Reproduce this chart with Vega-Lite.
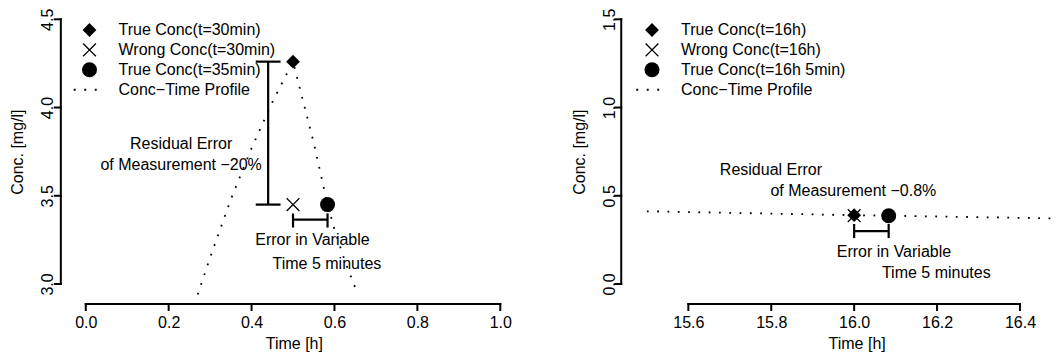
{
  "$schema": "https://vega.github.io/schema/vega-lite/v6.json",
  "background": "white",
  "padding": 0,
  "autosize": {"type": "fit", "contains": "padding"},
  "width": 1057,
  "height": 353,
  "config": {
    "font": "Liberation Sans",
    "view": {"stroke": null},
    "axis": {
      "grid": false, "domain": false,
      "tickColor": "black", "tickWidth": 2, "tickSize": 6, "tickOpacity": 0,
      "labelFont": "Liberation Sans", "labelFontSize": 16, "labelColor": "black", "labelOverlap": false,
      "titleFont": "Liberation Sans", "titleFontSize": 16, "titleFontWeight": "normal", "titleColor": "black"
    },
    "legend": {
      "labelFont": "Liberation Sans", "labelFontSize": 16, "labelColor": "black", "labelLimit": 0,
      "symbolFillColor": "black", "symbolStrokeWidth": 0, "symbolSize": 225,
      "labelOffset": 21, "rowPadding": 3.9, "padding": 0
    },
    "text": {"font": "Liberation Sans", "fontSize": 16, "color": "black"}
  },
  "datasets": {
    "profileL": [
      {"t": 0.27, "c": 2.94}, {"t": 0.30, "c": 3.15}, {"t": 0.35, "c": 3.48},
      {"t": 0.40, "c": 3.77}, {"t": 0.45, "c": 4.03}, {"t": 0.50, "c": 4.26},
      {"t": 0.55, "c": 3.80}, {"t": 0.5833, "c": 3.45}, {"t": 0.60, "c": 3.31},
      {"t": 0.625, "c": 3.13}, {"t": 0.65, "c": 2.98}, {"t": 0.655, "c": 2.95}
    ],
    "profileR": [
      {"t": 15.5, "c": 0.412}, {"t": 16.0, "c": 0.39}, {"t": 16.0833, "c": 0.387}, {"t": 16.48, "c": 0.372}
    ],
    "pointsL": [
      {"t": 0.5, "c": 4.26, "series": "True Conc(t=30min)"},
      {"t": 0.5, "c": 3.45, "series": "Wrong Conc(t=30min)"},
      {"t": 0.5833, "c": 3.45, "series": "True Conc(t=35min)"}
    ],
    "pointsR": [
      {"t": 16.0, "c": 0.39, "series": "True Conc(t=16h)"},
      {"t": 16.0, "c": 0.387, "series": "Wrong Conc(t=16h)"},
      {"t": 16.0833, "c": 0.387, "series": "True Conc(t=16h 5min)"}
    ],
    "barsL": [
      {"x": 0.44, "x2": 0.44, "y": 3.45, "y2": 4.26},
      {"x": 0.41, "x2": 0.47, "y": 4.26, "y2": 4.26},
      {"x": 0.41, "x2": 0.47, "y": 3.45, "y2": 3.45},
      {"x": 0.5, "x2": 0.5833, "y": 3.365, "y2": 3.365},
      {"x": 0.5, "x2": 0.5, "y": 3.32, "y2": 3.40},
      {"x": 0.5833, "x2": 0.5833, "y": 3.32, "y2": 3.40}
    ],
    "barsR": [
      {"x": 16.0, "x2": 16.0833, "y": 0.30, "y2": 0.30},
      {"x": 16.0, "x2": 16.0, "y": 0.26, "y2": 0.34},
      {"x": 16.0833, "x2": 16.0833, "y": 0.26, "y2": 0.34}
    ],
    "frameL": [
      {"x": 0, "x2": 1, "y": 2.88666, "y2": 2.88666},
      {"x": 0, "x2": 0, "y": 2.88666, "y2": 2.85266},
      {"x": 0.2, "x2": 0.2, "y": 2.88666, "y2": 2.85266},
      {"x": 0.4, "x2": 0.4, "y": 2.88666, "y2": 2.85266},
      {"x": 0.6, "x2": 0.6, "y": 2.88666, "y2": 2.85266},
      {"x": 0.8, "x2": 0.8, "y": 2.88666, "y2": 2.85266},
      {"x": 1.0, "x2": 1.0, "y": 2.88666, "y2": 2.85266},
      {"x": -0.06014, "x2": -0.06014, "y": 3.0, "y2": 4.5},
      {"x": -0.06014, "x2": -0.07457, "y": 3.0, "y2": 3.0},
      {"x": -0.06014, "x2": -0.07457, "y": 3.5, "y2": 3.5},
      {"x": -0.06014, "x2": -0.07457, "y": 4.0, "y2": 4.0},
      {"x": -0.06014, "x2": -0.07457, "y": 4.5, "y2": 4.5}
    ],
    "frameR": [
      {"x": 15.6, "x2": 16.4, "y": -0.11334, "y2": -0.11334},
      {"x": 15.6, "x2": 15.6, "y": -0.11334, "y2": -0.14734},
      {"x": 15.8, "x2": 15.8, "y": -0.11334, "y2": -0.14734},
      {"x": 16.0, "x2": 16.0, "y": -0.11334, "y2": -0.14734},
      {"x": 16.2, "x2": 16.2, "y": -0.11334, "y2": -0.14734},
      {"x": 16.4, "x2": 16.4, "y": -0.11334, "y2": -0.14734},
      {"x": 15.43811, "x2": 15.43811, "y": 0, "y2": 1.5},
      {"x": 15.43811, "x2": 15.42368, "y": 0, "y2": 0},
      {"x": 15.43811, "x2": 15.42368, "y": 0.5, "y2": 0.5},
      {"x": 15.43811, "x2": 15.42368, "y": 1.0, "y2": 1.0},
      {"x": 15.43811, "x2": 15.42368, "y": 1.5, "y2": 1.5}
    ],
    "notesCenterL": [
      {"x": 0.23, "y": 3.794, "label": "Residual Error"},
      {"x": 0.23, "y": 3.675, "label": "of Measurement −20%"}
    ],
    "notesLeftL": [
      {"x": 0.409, "y": 3.247, "label": "Error in Variable"},
      {"x": 0.4506, "y": 3.113, "label": "Time 5 minutes"}
    ],
    "notesLeftR": [
      {"x": 15.676, "y": 0.647, "label": "Residual Error"},
      {"x": 15.798, "y": 0.528, "label": "of Measurement −0.8%"},
      {"x": 15.958, "y": 0.181, "label": "Error in Variable"},
      {"x": 16.067, "y": 0.063, "label": "Time 5 minutes"}
    ]
  },
  "layer": [
    {
      "encoding": {
        "x": {"type": "quantitative", "scale": {"domain": [-0.20688, 2.33582], "nice": false, "zero": false},
              "axis": {"orient": "bottom", "offset": -49, "title": "Time [h]",
                       "values": [0, 0.2, 0.4, 0.6, 0.8, 1.0], "format": ".1f",
                       "labelBaseline": "alphabetic", "labelPadding": 17,
                       "titleX": 293.85, "titleY": 44.3, "titleAlign": "center", "titleBaseline": "alphabetic", "titleAngle": 0}},
        "y": {"type": "quantitative", "scale": {"domain": [2.60899, 4.60933], "nice": false, "zero": false},
              "axis": {"orient": "left", "offset": -61, "title": "Conc. [mg/l]",
                       "values": [3.0, 3.5, 4.0, 4.5], "format": ".1f",
                       "labelAngle": 270, "labelAlign": "center", "labelBaseline": "alphabetic", "labelPadding": 2.7,
                       "titleX": -39, "titleY": 151.65, "titleAlign": "center", "titleBaseline": "alphabetic", "titleAngle": 270}}
      },
      "layer": [
        {
          "data": {"name": "frameL"},
          "mark": {"type": "rule", "color": "black", "strokeWidth": 2, "strokeCap": "square"},
          "encoding": {"x": {"field": "x"}, "x2": {"field": "x2"}, "y": {"field": "y"}, "y2": {"field": "y2"}}
        },
        {
          "data": {"name": "profileL"},
          "mark": {"type": "line", "color": "black", "strokeWidth": 1.8, "strokeDash": [1.8, 8.5], "strokeCap": "butt"},
          "encoding": {"x": {"field": "t"}, "y": {"field": "c"}, "order": {"field": "t"}}
        },
        {
          "data": {"name": "barsL"},
          "mark": {"type": "rule", "color": "black", "strokeWidth": 2.2},
          "encoding": {"x": {"field": "x"}, "x2": {"field": "x2"}, "y": {"field": "y"}, "y2": {"field": "y2"}}
        },
        {
          "data": {"name": "pointsL"},
          "mark": {"type": "point", "filled": true, "color": "black", "strokeWidth": 0, "opacity": 1, "size": 225},
          "encoding": {
            "x": {"field": "t"}, "y": {"field": "c"},
            "shape": {"field": "series", "type": "nominal",
              "scale": {"domain": ["True Conc(t=30min)", "Wrong Conc(t=30min)", "True Conc(t=35min)", "Conc−Time Profile"],
                        "range": ["M0,-0.92L0.92,0L0,0.92L-0.92,0Z",
                                  "M0,-0.1226L0.7887,-0.9113L0.9113,-0.7887L0.1226,0L0.9113,0.7887L0.7887,0.9113L0,0.1226L-0.7887,0.9113L-0.9113,0.7887L-0.1226,0L-0.9113,-0.7887L-0.7887,-0.9113Z",
                                  "circle",
                                  "M-2.1,-0.13h0.26v0.26h-0.26ZM-0.7,-0.13h0.26v0.26h-0.26ZM0.7,-0.13h0.26v0.26h-0.26Z"]},
              "legend": {"title": null, "orient": "none", "legendX": 81.5, "legendY": 22}}
          }
        },
        {
          "data": {"name": "notesCenterL"},
          "mark": {"type": "text", "align": "center", "baseline": "middle"},
          "encoding": {"x": {"field": "x"}, "y": {"field": "y"}, "text": {"field": "label"}}
        },
        {
          "data": {"name": "notesLeftL"},
          "mark": {"type": "text", "align": "left", "baseline": "middle"},
          "encoding": {"x": {"field": "x"}, "y": {"field": "y"}, "text": {"field": "label"}}
        }
      ]
    },
    {
      "encoding": {
        "x": {"type": "quantitative", "scale": {"domain": [13.93943, 16.48213], "nice": false, "zero": false},
              "axis": {"orient": "bottom", "offset": -49, "title": "Time [h]",
                       "values": [15.6, 15.8, 16.0, 16.2, 16.4], "format": ".1f",
                       "labelBaseline": "alphabetic", "labelPadding": 17,
                       "titleX": 856.65, "titleY": 44.3, "titleAlign": "center", "titleBaseline": "alphabetic", "titleAngle": 0}},
        "y": {"type": "quantitative", "scale": {"domain": [-0.39101, 1.60933], "nice": false, "zero": false},
              "axis": {"orient": "left", "offset": -623, "title": "Conc. [mg/l]",
                       "values": [0, 0.5, 1.0, 1.5], "format": ".1f",
                       "labelAngle": 270, "labelAlign": "center", "labelBaseline": "alphabetic", "labelPadding": 2.7,
                       "titleX": -39, "titleY": 151.65, "titleAlign": "center", "titleBaseline": "alphabetic", "titleAngle": 270}}
      },
      "layer": [
        {
          "data": {"name": "frameR"},
          "mark": {"type": "rule", "color": "black", "strokeWidth": 2, "strokeCap": "square"},
          "encoding": {"x": {"field": "x"}, "x2": {"field": "x2"}, "y": {"field": "y"}, "y2": {"field": "y2"}}
        },
        {
          "data": {"name": "profileR"},
          "mark": {"type": "line", "color": "black", "strokeWidth": 1.8, "strokeDash": [1.8, 8.5], "strokeCap": "butt"},
          "encoding": {"x": {"field": "t"}, "y": {"field": "c"}, "order": {"field": "t"}}
        },
        {
          "data": {"name": "barsR"},
          "mark": {"type": "rule", "color": "black", "strokeWidth": 2.2},
          "encoding": {"x": {"field": "x"}, "x2": {"field": "x2"}, "y": {"field": "y"}, "y2": {"field": "y2"}}
        },
        {
          "data": {"name": "pointsR"},
          "mark": {"type": "point", "filled": true, "color": "black", "strokeWidth": 0, "opacity": 1, "size": 225},
          "encoding": {
            "x": {"field": "t"}, "y": {"field": "c"},
            "shape": {"field": "series", "type": "nominal",
              "scale": {"domain": ["True Conc(t=16h)", "Wrong Conc(t=16h)", "True Conc(t=16h 5min)", "Conc−Time Profile"],
                        "range": ["M0,-0.92L0.92,0L0,0.92L-0.92,0Z",
                                  "M0,-0.1226L0.7887,-0.9113L0.9113,-0.7887L0.1226,0L0.9113,0.7887L0.7887,0.9113L0,0.1226L-0.7887,0.9113L-0.9113,0.7887L-0.1226,0L-0.9113,-0.7887L-0.7887,-0.9113Z",
                                  "circle",
                                  "M-2.1,-0.13h0.26v0.26h-0.26ZM-0.7,-0.13h0.26v0.26h-0.26ZM0.7,-0.13h0.26v0.26h-0.26Z"]},
              "legend": {"title": null, "orient": "none", "legendX": 644, "legendY": 22}}
          }
        },
        {
          "data": {"name": "notesLeftR"},
          "mark": {"type": "text", "align": "left", "baseline": "middle"},
          "encoding": {"x": {"field": "x"}, "y": {"field": "y"}, "text": {"field": "label"}}
        }
      ]
    }
  ],
  "resolve": {
    "scale": {"x": "independent", "y": "independent", "shape": "independent"},
    "axis": {"x": "independent", "y": "independent"},
    "legend": {"shape": "independent"}
  }
}
